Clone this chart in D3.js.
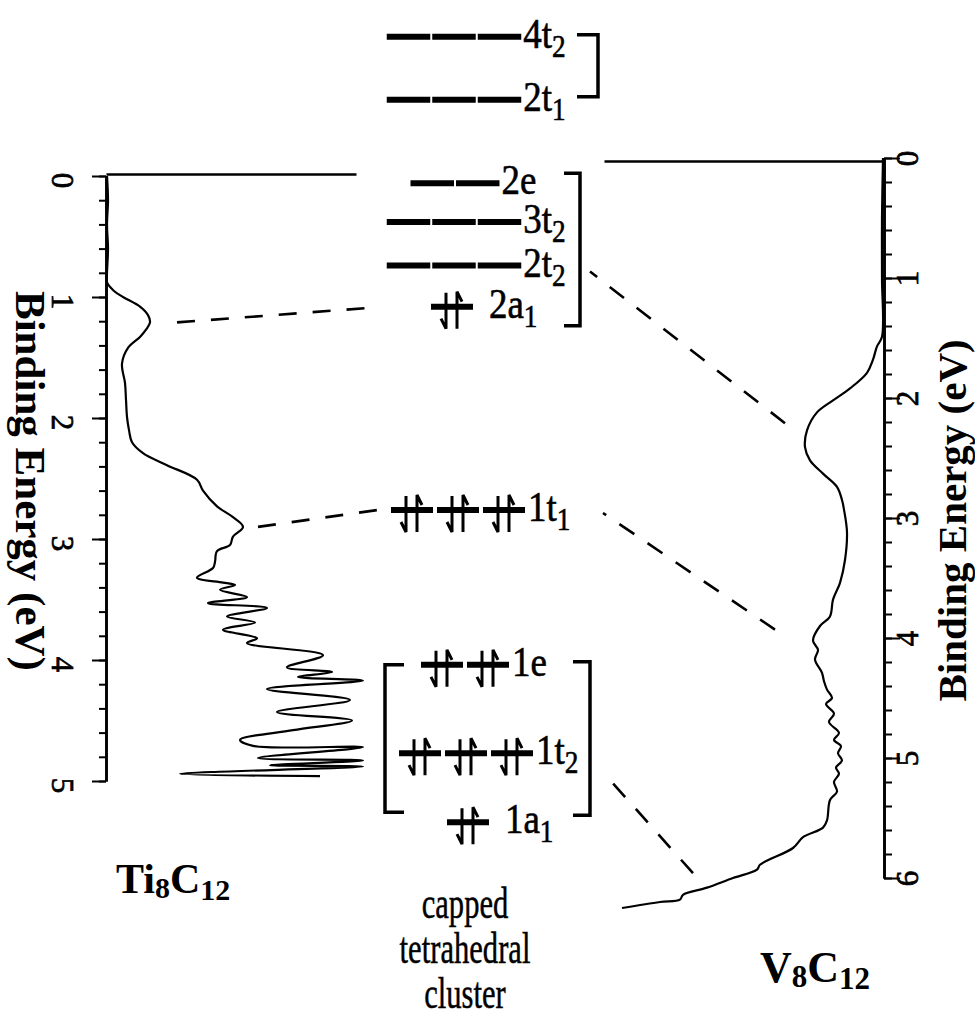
<!DOCTYPE html>
<html>
<head>
<meta charset="utf-8">
<script src="https://cdn.jsdelivr.net/npm/d3@7"></script>
<style>
  body { margin: 0; background: #fff; }
  text { font-family: "Liberation Serif", "Times New Roman", serif; fill: #000; }
</style>
</head>
<body>
<div class="chart"></div>
<script>
// Ti8C12 photoelectron spectrum (binding energy eV, intensity arb.)
var tiEnergy = [0, 0.2, 0.4, 0.6, 0.8, 0.88, 0.95, 1.0, 1.08, 1.15, 1.21, 1.27, 1.33, 1.42, 1.55,
  1.71, 1.85, 1.99, 2.1, 2.2, 2.29, 2.39, 2.51, 2.6, 2.73, 2.82, 2.9, 2.98, 3.05, 3.1,
  3.19, 3.24, 3.32, 3.36, 3.38, 3.42, 3.48, 3.53, 3.57, 3.64, 3.69, 3.75, 3.82, 3.86, 3.96,
  4.06, 4.1, 4.14, 4.17, 4.24, 4.33, 4.43, 4.5, 4.58, 4.66, 4.71, 4.72, 4.81, 4.83, 4.87,
  4.88, 4.94, 4.96];
var tiIntensity = [1, 2, 1, 2, 1, 1, 8, 17, 34, 42, 44, 40, 34, 22, 16,
  19, 20, 21, 23, 26, 37, 61, 91, 97, 111, 127, 137, 127, 124, 111,
  109, 107, 91, 117, 129, 114, 141, 102, 161, 121, 149, 117, 151, 141, 217,
  181, 226, 192, 257, 161, 244, 171, 246, 187, 134, 147, 257, 152, 257, 164,
  257, 74, 214];

// V8C12 photoelectron spectrum
var vEnergy = [0, 0.5, 1.0, 1.49, 1.57, 1.68, 1.79, 1.92, 2.02, 2.12, 2.27, 2.41, 2.52, 2.63, 2.74,
  2.85, 2.93, 3.12, 3.35, 3.54, 3.68, 3.82, 3.9, 4.02, 4.1, 4.18, 4.29, 4.36, 4.43, 4.5,
  4.55, 4.63, 4.7, 4.79, 4.85, 4.9, 4.96, 5.02, 5.08, 5.13, 5.2, 5.28, 5.35, 5.52, 5.58,
  5.66, 5.75, 5.89, 5.93, 6.0, 6.08, 6.14, 6.18, 6.2, 6.25];
var vIntensity = [1, 2, 2, 2, 7, 11, 17, 34, 51, 67, 77, 79, 74, 61, 47,
  42, 40, 37, 39, 44, 51, 54, 64, 71, 66, 69, 62, 60, 57, 52,
  58, 50, 55, 45, 50, 43, 46, 42, 48, 45, 50, 47, 54, 57, 61,
  81, 91, 124, 127, 151, 177, 201, 204, 224, 262];

var tiTicks = [0, 1, 2, 3, 4, 5];
var vTicks = [0, 1, 2, 3, 4, 5, 6];

// molecular orbital levels of the capped tetrahedral cluster
var levelNames = ['4t2', '2t1', '2e', '3t2', '2t2', '2a1', '1t1', '1e', '1t2', '1a1'];
var levelMain = ['4t', '2t', '2e', '3t', '2t', '2a', '1t', '1e', '1t', '1a'];
var levelSub = ['2', '1', '', '2', '2', '1', '1', '', '2', '1'];
var levelEnergy = [-1.15, -0.63, 0.06, 0.38, 0.74, 1.08, 2.76, 4.04, 4.77, 5.34];
var levelDegeneracy = [3, 3, 2, 3, 3, 1, 3, 2, 3, 1];
var levelOccupied = [false, false, false, false, false, true, true, true, true, true];

// correlation lines: spectrum feature -> orbital level
var corrSpectrum = ['Ti', 'Ti', 'V', 'V', 'V'];
var corrEnergy = [1.21, 2.90, 2.21, 3.93, 5.96];
var corrIntensity = [71, 152, 99, 109, 191];
var corrLevel = ['2a1', '1t1', '2t2', '1t1', '1t2'];

// ---- layout ----
var width = 975, height = 1022;
var levelCx = [454, 454, 455, 454, 454, 452, 458, 465, 466, 468];
var corrEndX = [372, 378, 590, 603, 603];
var corrEndDy = [1, 0, 6, 3, 19];

var svg = d3.select('.chart').append('svg')
  .attr('width', width)
  .attr('height', height);

var yTi = d3.scaleLinear().domain([0, 5]).range([176, 781]);
var xTi = d3.scaleLinear().domain([0, 250]).range([106, 356]);
var yV = d3.scaleLinear().domain([0, 6]).range([158, 878]);
var xV = d3.scaleLinear().domain([0, 280]).range([884, 604]);
var yMO = d3.scaleLinear().domain([0, 5]).range([176, 781]);

function energyAxis(scale, x, side, ticks) {
  var maxE = ticks[ticks.length - 1];
  var minor = d3.range(0, maxE * 5 + 1).map(function(i) { return i / 5; });
  var gen = side == 'left' ? d3.axisLeft : d3.axisRight;
  var g = svg.append('g').attr('transform', 'translate(' + x + ',0)');
  g.call(gen(scale).tickValues(minor).tickSize(side == 'left' ? 7 : 8).tickSizeOuter(0).tickFormat(''));
  g.append('g').call(gen(scale).tickValues(ticks).tickSize(side == 'left' ? 14 : 16).tickSizeOuter(0)
    .tickFormat(d3.format('d')));
  g.selectAll('path.domain').attr('stroke-width', 2.6);
  g.selectAll('.tick line').attr('stroke-width', 2);
  g.selectAll('.tick text')
    .attr('x', null).attr('y', null).attr('dy', null)
    .attr('text-anchor', 'middle')
    .attr('dominant-baseline', 'central')
    .style('font-size', '31px')
    .style('stroke', '#000').style('stroke-width', 0.7)
    .attr('transform', side == 'left' ? 'translate(-44,4) rotate(90)' : 'translate(23,0) rotate(-90)');
  return g;
}

energyAxis(yTi, 106, 'left', tiTicks);
energyAxis(yV, 884, 'right', vTicks);

// intensity frames along the top (no ticks)
svg.append('g').attr('transform', 'translate(0,' + (yTi(0) - 2) + ')')
  .call(d3.axisTop(xTi).tickValues([]).tickSizeOuter(0))
  .select('path.domain').attr('stroke-width', 2.4);
svg.append('g').attr('transform', 'translate(0,' + (yV(0) + 3) + ')')
  .call(d3.axisTop(xV).tickValues([]).tickSizeOuter(0))
  .select('path.domain').attr('stroke-width', 2.4);

// axis titles
svg.append('text')
  .attr('transform', 'translate(30,' + yTi(2.52) + ') rotate(90)')
  .attr('text-anchor', 'middle').attr('dominant-baseline', 'central')
  .style('font-size', '43px').style('font-weight', 'bold')
  .text('Binding Energy (eV)');
svg.append('text')
  .attr('transform', 'translate(952,' + yV(3.02) + ') rotate(-90)')
  .attr('text-anchor', 'middle').attr('dominant-baseline', 'central')
  .style('font-size', '41px').style('font-weight', 'bold')
  .text('Binding Energy (eV)');

// spectra
var tiData = tiEnergy.map(function(e, i) { return {e: e, v: tiIntensity[i]}; });
var vData = vEnergy.map(function(e, i) { return {e: e, v: vIntensity[i]}; });

svg.append('path').datum(tiData)
  .attr('fill', 'none').attr('stroke', '#000').attr('stroke-width', 2.2)
  .attr('stroke-linejoin', 'round')
  .attr('d', d3.line().curve(d3.curveCatmullRom.alpha(0.5))
    .x(function(d) { return xTi(d.v); })
    .y(function(d) { return yTi(d.e); }));
svg.append('path').datum(vData)
  .attr('fill', 'none').attr('stroke', '#000').attr('stroke-width', 2.2)
  .attr('stroke-linejoin', 'round')
  .attr('d', d3.line().curve(d3.curveCatmullRom.alpha(0.5))
    .x(function(d) { return xV(d.v); })
    .y(function(d) { return yV(d.e); }));

// orbital levels
var levels = levelNames.map(function(n, i) {
  var occ = levelOccupied[i];
  var slot = occ ? 46 : 45.5;
  var deg = levelDegeneracy[i];
  return {
    name: n, main: levelMain[i], sub: levelSub[i], y: yMO(levelEnergy[i]),
    occ: occ, deg: deg, slot: slot, cx: levelCx[i],
    left: levelCx[i] - deg * slot / 2, right: levelCx[i] + deg * slot / 2
  };
});
var levelByName = {};
levels.forEach(function(l) { levelByName[l.name] = l; });

var lg = svg.append('g');
levels.forEach(function(l) {
  for (var k = 0; k < l.deg; k++) {
    var x0 = l.left + k * l.slot;
    if (!l.occ) {
      lg.append('line')
        .attr('x1', x0 + 1).attr('x2', x0 + l.slot - 1)
        .attr('y1', l.y).attr('y2', l.y)
        .attr('stroke', '#000').attr('stroke-width', 6);
    } else {
      var cx = x0 + l.slot / 2;
      lg.append('line')
        .attr('x1', x0 + 2).attr('x2', x0 + l.slot - 2)
        .attr('y1', l.y).attr('y2', l.y)
        .attr('stroke', '#000').attr('stroke-width', 6);
      // spin down arrow
      lg.append('path')
        .attr('d', 'M' + (cx - 6) + ',' + (l.y - 14) + 'V' + (l.y + 22) + 'L' + (cx - 11) + ',' + (l.y + 12))
        .attr('fill', 'none').attr('stroke', '#000').attr('stroke-width', 3);
      // spin up arrow
      lg.append('path')
        .attr('d', 'M' + (cx + 5) + ',' + (l.y + 22) + 'V' + (l.y - 15) + 'L' + (cx + 10) + ',' + (l.y - 5))
        .attr('fill', 'none').attr('stroke', '#000').attr('stroke-width', 3);
    }
  }
  var t = lg.append('text')
    .attr('transform', 'translate(' + (l.right + (l.deg == 1 ? 14 : 1)) + ',' + (l.y + 11) + ') scale(0.88,1)')
    .style('font-size', '42px')
    .style('stroke', '#000').style('stroke-width', 0.6);
  t.append('tspan').text(l.main);
  if (l.sub) t.append('tspan').attr('dy', 9).style('font-size', '31px').text(l.sub);
});

// brackets
function bracket(x, y0, y1, arm) {
  lg.append('path')
    .attr('d', 'M' + (x - arm) + ',' + y0 + 'H' + x + 'V' + y1 + 'H' + (x - arm))
    .attr('fill', 'none').attr('stroke', '#000').attr('stroke-width', 3.5);
}
bracket(598, levelByName['4t2'].y - 2, levelByName['2t1'].y - 3, 21);
bracket(580, levelByName['2e'].y - 10, levelByName['2a1'].y + 19, 16);
bracket(590, levelByName['1e'].y - 3, levelByName['1a1'].y - 7, 17);
bracket(385, levelByName['1e'].y, levelByName['1a1'].y - 10, -19);

// correlation dashed lines
corrLevel.forEach(function(name, i) {
  var l = levelByName[name];
  var sx = corrSpectrum[i] == 'Ti' ? xTi(corrIntensity[i]) : xV(corrIntensity[i]);
  var sy = corrSpectrum[i] == 'Ti' ? yTi(corrEnergy[i]) : yV(corrEnergy[i]);
  svg.append('line')
    .attr('x1', sx).attr('y1', sy)
    .attr('x2', corrEndX[i]).attr('y2', l.y + corrEndDy[i])
    .attr('stroke', '#000').attr('stroke-width', 2.6)
    .attr('stroke-dasharray', '18,16');
});

// cluster labels
function formula(x, y, parts) {
  var t = svg.append('text').attr('x', x).attr('y', y)
    .style('font-weight', 'bold').style('font-size', '42px');
  parts.forEach(function(p) {
    t.append('tspan').attr('dy', p[2]).style('font-size', p[1] + 'px').text(p[0]);
  });
}
formula(116, 893, [['Ti', 42, 0], ['8', 30, 5], ['C', 42, -5], ['12', 30, 7]]);
formula(760, 982, [['V', 44, 0], ['8', 31, 5], ['C', 44, -5], ['12', 31, 7]]);

var caption = ['capped', 'tetrahedral', 'cluster'];
svg.append('g').selectAll('text').data(caption).enter().append('text')
  .attr('text-anchor', 'middle')
  .attr('transform', function(d, i) { return 'translate(465,' + (918 + i * 45) + ') scale(0.68,1)'; })
  .style('font-size', '45px')
  .style('stroke', '#000').style('stroke-width', 0.5)
  .text(function(d) { return d; });
</script>
</body>
</html>
